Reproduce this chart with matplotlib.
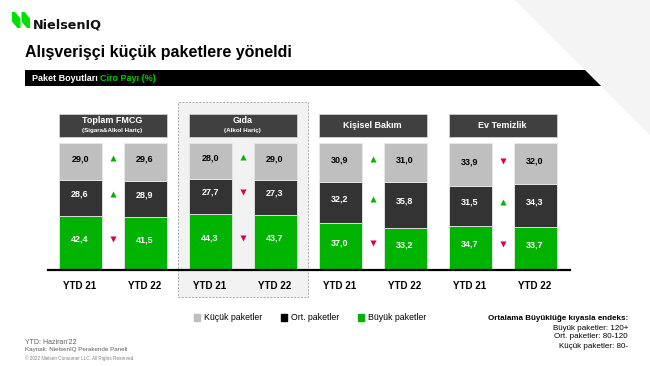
import matplotlib
matplotlib.use("Agg")
from matplotlib import pyplot as plt
from matplotlib.patches import Polygon, Rectangle, Patch
import numpy as np

plt.rcParams['font.family'] = ['Liberation Sans', 'DejaVu Sans']

# veriler
groups = ["Toplam FMCG", "Gıda", "Kişisel Bakım", "Ev Temizlik"]
group_notes = ["(Sigara&Alkol Hariç)", "(Alkol Hariç)", "", ""]
periods = ["YTD 21", "YTD 22"]
kucuk = [29.0, 29.6, 28.0, 29.0, 30.9, 31.0, 33.9, 32.0]
orta = [28.6, 28.9, 27.7, 27.3, 32.2, 35.8, 31.5, 34.3]
buyuk = [42.4, 41.5, 44.3, 43.7, 37.0, 33.2, 34.7, 33.7]
series_names = ["Küçük paketler", "Ort. paketler", "Büyük paketler"]
index_notes = ["Ortalama Büyüklüğe kıyasla endeks:", "Büyük paketler: 120+",
               "Ort. paketler: 80-120", "Küçük paketler: 80-"]

C_SMALL = "#bfbfbf"
C_MID = "#333333"
C_BIG = "#00b300"
C_UP = "#00b300"
C_DOWN = "#d6004f"

W, H = 650, 366
fig = plt.figure(figsize=(W / 100, H / 100), dpi=100)

# arka plan katmani (piksel koordinatlari)
bg = fig.add_axes([0, 0, 1, 1])
bg.set_xlim(0, W)
bg.set_ylim(H, 0)
bg.axis("off")

bg.add_patch(Polygon([(515, 0), (W, 0), (W, 135)], closed=True, color="#f4f4f4", lw=0))
bg.add_patch(Polygon([(25, 70), (585, 70), (601, 86), (25, 86)], closed=True, color="black", lw=0))

# logo
for dx in (0, 9.5):
    bg.add_patch(Polygon([(12 + dx, 12), (15 + dx, 12), (20.5 + dx, 18.5), (20.5 + dx, 28),
                          (17.5 + dx, 28), (12 + dx, 21.5)], closed=True, color="#00e000",
                         lw=0, antialiased=True))
bg.text(32.5, 24.5, "NielsenIQ", fontsize=9.2, color="#111111", va="center", ha="left",
        family=["DejaVu Sans"], fontweight="bold")

bg.text(25, 52, "Alışverişçi küçük paketlere yöneldi", fontsize=11.5, fontweight="bold",
        va="center", ha="left")
t1 = bg.text(32, 78.5, "Paket Boyutları ", fontsize=6.5, fontweight="bold", color="white",
             va="center", ha="left")
bg.annotate("Ciro Payı (%)", xy=(1, 0.5), xycoords=t1, fontsize=6.5, fontweight="bold",
            color="#00d000", va="center", ha="left")

bg.text(25, 343, "YTD: Haziran'22", fontsize=5, color="#606060", va="center")
bg.text(25, 350, "Kaynak: NielsenIQ Perakende Paneli", fontsize=4.5, color="#606060", va="center")
bg.text(25, 358, "© 2022 Nielsen Consumer LLC. All Rights Reserved.", fontsize=3.3,
        color="#808080", va="center")

for i, s in enumerate(index_notes):
    bg.text(628, 319 + 9 * i, s, fontsize=5.8, ha="right", va="center",
            fontweight="bold" if i == 0 else "normal")

# grafik ekseni
ax = fig.add_axes([48 / W, (H - 270) / H, 522 / W, 127 / H])
ax.set_facecolor("none")
x = np.arange(len(kucuk))
ax.set_xlim((48 - 80) / 65, (570 - 80) / 65)
ax.set_ylim(0, 100)
bw = 43 / 65

# Gida kutusu
ax.add_patch(Rectangle((1.508, -21.3), 2.0, 153.6, facecolor="#f2f2f2", edgecolor="#a6a6a6",
                       ls=(0, (2, 1.5)), lw=0.7, clip_on=False, zorder=0))

b1 = ax.bar(x, buyuk, bw, color=C_BIG, edgecolor="#e8e8e8", lw=0.6, label=series_names[2], zorder=2)
b2 = ax.bar(x, orta, bw, bottom=buyuk, color=C_MID, edgecolor="#e8e8e8", lw=0.6,
            label=series_names[1], zorder=2)
bot3 = np.array(buyuk) + np.array(orta)
b3 = ax.bar(x, kucuk, bw, bottom=bot3, color=C_SMALL, edgecolor="#e8e8e8", lw=0.6,
            label=series_names[0], zorder=2)

def fmt(v):
    return f"{v:.1f}".replace(".", ",")

for i in x:
    ax.text(i, buyuk[i] / 2 + 3, fmt(buyuk[i]), ha="center", va="center", fontsize=6.5,
            fontweight="bold", color="white", zorder=3)
    ax.text(i, buyuk[i] + orta[i] / 2 + 3, fmt(orta[i]), ha="center", va="center", fontsize=6.5,
            fontweight="bold", color="white", zorder=3)
    ax.text(i, bot3[i] + kucuk[i] / 2 + 2, fmt(kucuk[i]), ha="center", va="center", fontsize=6.5,
            fontweight="bold", color="black", zorder=3)

# degisim oklari
for g in range(len(groups)):
    a, b = 2 * g, 2 * g + 1
    xm = (a + b) / 2
    bases = [0, buyuk[a], bot3[a]]
    for vals, base in zip([buyuk, orta, kucuk], bases):
        up = vals[b] > vals[a]
        ax.plot(xm, base + vals[a] / 2 + 3, marker="^" if up else "v", ms=4,
                color=C_UP if up else C_DOWN, mec="none", zorder=3)

# basliklar
for g, name in enumerate(groups):
    left = 2 * g - bw / 2
    ax.add_patch(Rectangle((left, 104.7), 1 + bw, 18.1, facecolor="#404040", edgecolor="#cfcfcf",
                           lw=0.6, clip_on=False, zorder=2))
    if group_notes[g]:
        ax.text(2 * g + 0.5, 117.6, name, ha="center", va="center", fontsize=6.5,
                fontweight="bold", color="white", clip_on=False)
        ax.text(2 * g + 0.5, 109.8, group_notes[g], ha="center", va="center", fontsize=4.5,
                fontweight="bold", color="white", clip_on=False)
    else:
        ax.text(2 * g + 0.5, 113.8, name, ha="center", va="center", fontsize=6.5,
                fontweight="bold", color="white", clip_on=False)

ax.set_xticks(x)
ax.set_xticklabels(periods * len(groups), fontsize=7, fontweight="bold")
ax.tick_params(axis="x", length=0, pad=8)
ax.set_yticks([])
for s in ["left", "right", "top"]:
    ax.spines[s].set_visible(False)
ax.spines["bottom"].set_linewidth(1.6)
ax.spines["bottom"].set_color("black")

fig.legend(handles=[Patch(color=C_SMALL), Patch(color="black"), Patch(color=C_BIG)],
           labels=series_names, loc="center", bbox_to_anchor=(310 / W, 1 - 318 / H),
           ncol=3, frameon=False, fontsize=6.3, handlelength=0.7, handleheight=0.7,
           handletextpad=0.4, columnspacing=2.2)

fig.savefig("out.png", dpi=100)
